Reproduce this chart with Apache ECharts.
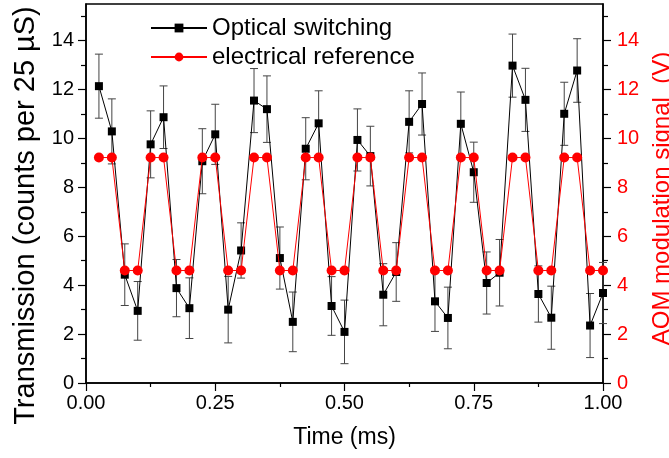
<!DOCTYPE html>
<html>
<head>
<meta charset="utf-8">
<script src="https://cdn.jsdelivr.net/npm/echarts@6/dist/echarts.min.js"></script>
<style>
html,body{margin:0;padding:0;background:#fff;}
#c{width:669px;height:458px;}
</style>
</head>
<body>
<div id="c"></div>
<script>
// ---- data ----
const timeMs = [0.025,0.05,0.075,0.1,0.125,0.15,0.175,0.2,0.225,0.25,
  0.275,0.3,0.325,0.35,0.375,0.4,0.425,0.45,0.475,0.5,
  0.525,0.55,0.575,0.6,0.625,0.65,0.675,0.7,0.725,0.75,
  0.775,0.8,0.825,0.85,0.875,0.9,0.925,0.95,0.975,1.0];
const opticalCounts = [12.14,10.29,4.43,2.95,9.76,10.87,3.88,3.06,9.07,10.17,
  3.0,5.42,11.55,11.2,5.11,2.5,9.58,10.62,3.15,2.09,
  9.94,9.28,3.61,4.54,10.68,11.41,3.34,2.66,10.6,8.62,
  4.09,4.51,12.98,11.58,3.64,2.67,11.01,12.78,2.35,3.68];
const opticalErr = [1.31,1.33,1.26,1.2,1.37,1.28,1.17,1.24,1.33,1.23,
  1.36,1.13,1.31,1.36,1.27,1.22,1.27,1.33,1.2,1.3,
  1.27,1.22,1.27,1.2,1.27,1.27,1.23,1.26,1.3,1.23,
  1.27,1.36,1.29,1.29,1.15,1.29,1.29,1.3,1.31,1.25];
const electricalVolts = [9.22,9.22,4.6,4.6,9.22,9.22,4.6,4.6,9.22,9.22,
  4.6,4.6,9.22,9.22,4.6,4.6,9.22,9.22,4.6,4.6,
  9.22,9.22,4.6,4.6,9.22,9.22,4.6,4.6,9.22,9.22,
  4.6,4.6,9.22,9.22,4.6,4.6,9.22,9.22,4.6,4.6];
const xTicks = [0,0.25,0.5,0.75,1.0];
const yMajorTicks = [0,2,4,6,8,10,12,14];
const yMinorTicks = [1,3,5,7,9,11,13,15];
const seriesNames = ['Optical switching','electrical reference'];
const xTitle = 'Time (ms)';
const yLeftTitle = 'Transmission (counts per 25 \u00b5S)';
const yRightTitle = 'AOM modulation signal  (V)';

const FONT = "'Liberation Sans', Arial, sans-serif";
const chart = echarts.init(document.getElementById('c'), null, {renderer:'canvas'});

function yAxisBase(pos, extra) {
  return Object.assign({
    type:'value', position:pos, min:0, max:15.5,
    axisLine:{show:true, onZero:false, lineStyle:{color:'#000', width:1.5}},
    splitLine:{show:false},
  }, extra);
}

const option = {
  animation:false,
  backgroundColor:'#fff',
  grid:{left:86, right:66, top:4, bottom:75, outerBoundsMode:'none', containLabel:false,
        show:true, borderColor:'#000', borderWidth:1.5, backgroundColor:'transparent'},
  legend:{
    left:145, top:11, orient:'vertical', itemWidth:56, itemHeight:11, itemGap:5,
    textStyle:{fontFamily:FONT, fontSize:24, color:'#000', lineHeight:24},
    data:seriesNames
  },
  xAxis:[{
    type:'value', min:0, max:1, interval:0.25,
    axisLine:{onZero:false, lineStyle:{color:'#000', width:1.5}},
    axisTick:{show:true, length:8, customValues:xTicks, lineStyle:{color:'#000', width:1.2}},
    minorTick:{show:true, splitNumber:2, length:4, lineStyle:{color:'#000', width:1.2}},
    splitLine:{show:false},
    axisLabel:{fontFamily:FONT, fontSize:20, color:'#000', margin:10, customValues:xTicks, formatter:v=>v.toFixed(2)},
    name:xTitle, nameLocation:'middle', nameGap:43,
    nameTextStyle:{fontFamily:FONT, fontSize:23, color:'#000'}
  }],
  yAxis:[
    yAxisBase('left',{
      axisTick:{show:true, length:8, customValues:yMajorTicks, lineStyle:{color:'#000', width:1.2}},
      axisLabel:{fontFamily:FONT, fontSize:20, color:'#000', margin:12, customValues:yMajorTicks},
      name:yLeftTitle, nameLocation:'middle', nameRotate:90, nameGap:44,
      nameTextStyle:{fontFamily:FONT, fontSize:29, color:'#000', padding:[0,44,0,0]}
    }),
    yAxisBase('right',{
      axisTick:{show:true, length:8, customValues:yMajorTicks, lineStyle:{color:'#000', width:1.2}},
      axisLabel:{fontFamily:FONT, fontSize:20, color:'#ff0000', margin:14, customValues:yMajorTicks},
      name:yRightTitle, nameLocation:'middle', nameRotate:90, nameGap:40,
      nameTextStyle:{fontFamily:FONT, fontSize:24, color:'#ff0000', padding:[0,10,0,0]}
    }),
    yAxisBase('left',{
      axisLine:{show:false},
      axisTick:{show:true, length:5, customValues:yMinorTicks, lineStyle:{color:'#000', width:1.2}},
      axisLabel:{show:false}
    }),
    yAxisBase('right',{
      axisLine:{show:false},
      axisTick:{show:true, length:5, customValues:yMinorTicks, lineStyle:{color:'#000', width:1.2}},
      axisLabel:{show:false}
    })
  ],
  series:[
    {
      type:'custom', name:'errors', xAxisIndex:0, yAxisIndex:0, z:1, clip:false, silent:true,
      data: timeMs.map((t,i)=>[t, opticalCounts[i], opticalErr[i]]),
      renderItem:function(params, api){
        const x = api.value(0), v = api.value(1), e = api.value(2);
        const lo = api.coord([x, v-e]), hi = api.coord([x, v+e]);
        const cw = 4;
        const st = {stroke:'#444', lineWidth:1};
        return {type:'group', children:[
          {type:'line', shape:{x1:lo[0], y1:lo[1], x2:hi[0], y2:hi[1]}, style:st},
          {type:'line', shape:{x1:lo[0]-cw, y1:lo[1], x2:lo[0]+cw, y2:lo[1]}, style:st},
          {type:'line', shape:{x1:hi[0]-cw, y1:hi[1], x2:hi[0]+cw, y2:hi[1]}, style:st}
        ]};
      }
    },
    {
      type:'line', name:seriesNames[0], xAxisIndex:0, yAxisIndex:0, z:2, clip:false,
      data: timeMs.map((t,i)=>[t, opticalCounts[i]]),
      symbol:'rect', symbolSize:8, showAllSymbol:true,
      lineStyle:{color:'#000', width:1},
      itemStyle:{color:'#000'}
    },
    {
      type:'line', name:seriesNames[1], xAxisIndex:0, yAxisIndex:1, z:3, clip:false,
      data: timeMs.map((t,i)=>[t, electricalVolts[i]]),
      symbol:'circle', symbolSize:10, showAllSymbol:true,
      lineStyle:{color:'#ff0000', width:1},
      itemStyle:{color:'#ff0000'}
    }
  ]
};
chart.setOption(option);
</script>
</body>
</html>
